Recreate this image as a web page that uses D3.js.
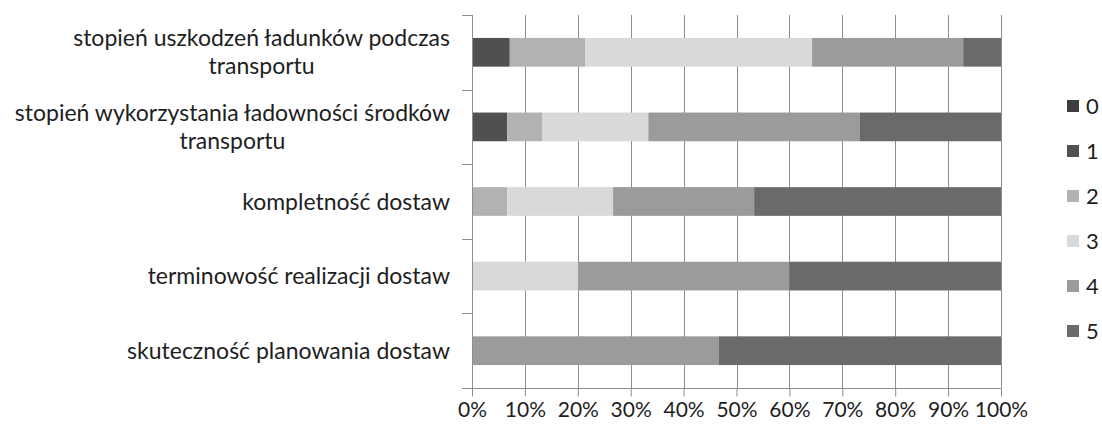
<!DOCTYPE html>
<html>
<head>
<meta charset="utf-8">
<script src="https://d3js.org/d3.v7.min.js"></script>
<style>
body { margin:0; background:#fff; }
text { font-family: Lato, "Open Sans", sans-serif; fill:#1e1e1e; }
</style>
</head>
<body>
<div id="chart"></div>
<script>
	// categories top to bottom, counts of answers per rating (0..5)
	var categories = [
		"stopień uszkodzeń ładunków podczas transportu",
		"stopień wykorzystania ładowności środków transportu",
		"kompletność dostaw",
		"terminowość realizacji dostaw",
		"skuteczność planowania dostaw"
	];
	var ratings = ["0", "1", "2", "3", "4", "5"];
	var r0 = [0, 0, 0, 0, 0];
	var r1 = [1, 1, 0, 0, 0];
	var r2 = [2, 1, 1, 0, 0];
	var r3 = [6, 3, 3, 3, 0];
	var r4 = [4, 6, 4, 6, 7];
	var r5 = [1, 4, 7, 6, 8];
	var tickLabels = ["0%","10%","20%","30%","40%","50%","60%","70%","80%","90%","100%"];
	var colors = ["#3d3d3d", "#505050", "#b2b2b2", "#d9d9d9", "#9b9b9b", "#6a6a6a"];

	var width = 1102, height = 428;
	// note: "top" is reserved on window, so plot bounds get a prefix
	var plotLeft = 472, plotRight = 1001, plotTop = 15, plotBottom = 388;
	var fs = 21, catFs = 23;

	var rows = categories.map(function(c, i){
		return {cat:c, "0":r0[i], "1":r1[i], "2":r2[i], "3":r3[i], "4":r4[i], "5":r5[i]};
	});
	var series = d3.stack().keys(ratings).offset(d3.stackOffsetExpand)(rows);

	var svg = d3.select("#chart").append("svg")
		.attr("width", width)
		.attr("height", height);

	var x = d3.scaleLinear().domain([0, 1]).range([plotLeft, plotRight]);
	var y = d3.scaleBand().domain(categories).range([plotTop, plotBottom])
		.paddingInner(0.615).paddingOuter(0.3075);
	var color = d3.scaleOrdinal().domain(ratings).range(colors);
	var tickVals = d3.range(0, 11).map(function(i){ return i / 10; });

	// vertical gridlines
	svg.append("g")
		.selectAll("line")
		.data(tickVals)
		.enter().append("line")
		.attr("x1", function(d){ return Math.round(x(d)) + 0.5; })
		.attr("x2", function(d){ return Math.round(x(d)) + 0.5; })
		.attr("y1", plotTop).attr("y2", plotBottom)
		.attr("stroke", "#8e8e8e");

	// bars
	svg.append("g")
		.selectAll("g")
		.data(series)
		.enter().append("g")
		.attr("fill", function(d){ return color(d.key); })
		.selectAll("rect")
		.data(function(d){ return d; })
		.enter().append("rect")
		.attr("x", function(d){ return x(d[0]); })
		.attr("width", function(d){ return x(d[1]) - x(d[0]); })
		.attr("y", function(d){ return y(d.data.cat); })
		.attr("height", y.bandwidth());

	// x axis
	var xAxis = d3.axisBottom(x)
		.tickValues(tickVals)
		.tickFormat(function(d, i){ return tickLabels[i]; })
		.tickSize(8).tickSizeOuter(0).tickPadding(6);
	var gx = svg.append("g")
		.attr("transform", "translate(0," + (plotBottom + 0.5) + ")")
		.call(xAxis);
	gx.select(".domain").remove();
	gx.selectAll("line").attr("stroke", "#8e8e8e");
	gx.selectAll("text").style("font-size", fs + "px").attr("fill", "#1e1e1e");
	gx.append("line")
		.attr("x1", plotLeft - 10).attr("x2", plotRight + 0.5)
		.attr("stroke", "#8e8e8e");

	// y axis line and ticks at band boundaries
	var step = y.step();
	svg.append("line")
		.attr("x1", plotLeft + 0.5).attr("x2", plotLeft + 0.5)
		.attr("y1", plotTop).attr("y2", plotBottom)
		.attr("stroke", "#8e8e8e");
	svg.append("g")
		.selectAll("line")
		.data(d3.range(0, categories.length))
		.enter().append("line")
		.attr("x1", plotLeft - 10).attr("x2", plotLeft)
		.attr("y1", function(i){ return Math.round(plotTop + i * step) + 0.5; })
		.attr("y2", function(i){ return Math.round(plotTop + i * step) + 0.5; })
		.attr("stroke", "#8e8e8e");

	// category labels, wrapped, block right aligned and lines centered
	var labelRight = 450, maxW = 450, lineH = 28;
	var gl = svg.append("g").style("font-size", catFs + "px");
	categories.forEach(function(c){
		var words = c.split(" "), lines = [], cur = "";
		var probe = gl.append("text");
		words.forEach(function(w){
			var t = cur ? cur + " " + w : w;
			probe.text(t);
			if (probe.node().getComputedTextLength() > maxW && cur) {
				lines.push(cur); cur = w;
			} else cur = t;
		});
		lines.push(cur);
		var blockW = 0;
		lines.forEach(function(l){
			probe.text(l);
			blockW = Math.max(blockW, probe.node().getComputedTextLength());
		});
		probe.remove();
		var cy = y(c) + y.bandwidth() / 2;
		var y0 = cy - (lines.length - 1) * lineH / 2 + 8;
		lines.forEach(function(l, i){
			gl.append("text")
				.attr("x", labelRight - blockW / 2)
				.attr("y", y0 + i * lineH)
				.attr("text-anchor", "middle")
				.text(l);
		});
	});

	// legend
	var legend = svg.append("g").selectAll("g")
		.data(ratings)
		.enter().append("g")
		.attr("transform", function(d, i){ return "translate(1067," + (106 + i * 45) + ")"; });
	legend.append("rect")
		.attr("x", 0).attr("y", -6)
		.attr("width", 12).attr("height", 12)
		.attr("fill", function(d){ return color(d); });
	legend.append("text")
		.attr("x", 19).attr("y", 8)
		.style("font-size", "22px")
		.text(function(d){ return d; });
</script>
</body>
</html>
